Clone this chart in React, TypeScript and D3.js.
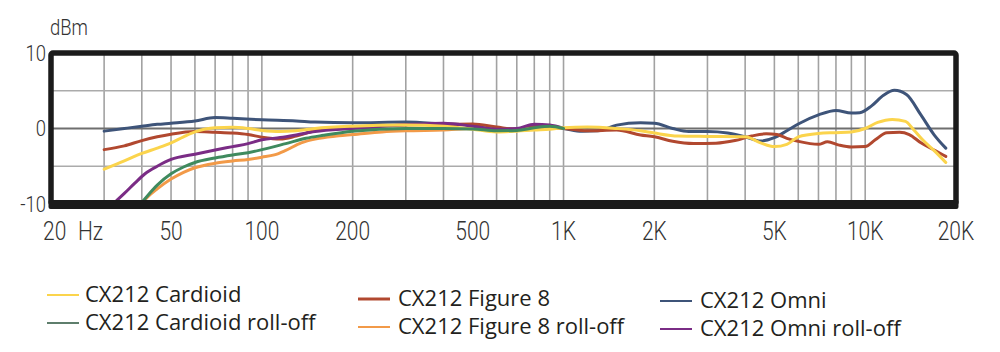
import React from "react";
import * as d3 from "d3";

type Pt = [number, number];

const cardioid: Pt[] = [
  [30, -5.4], [35, -4.3], [40, -3.3], [45, -2.6], [50, -1.9], [55, -1.1], [60, -0.45], [70, 0.1], [80, 0.15], [90, 0.0],
  [100, -0.25], [115, -0.4], [130, -0.3], [150, 0.0], [200, 0.3], [300, 0.45], [400, 0.3], [500, -0.1], [600, -0.45],
  [700, -0.35], [800, -0.2], [900, -0.1], [1000, 0.1], [1200, 0.2], [1500, 0.0], [1800, -0.3], [2000, -0.6], [2400, -1.0],
  [3000, -1.05], [4000, -1.1], [4500, -1.9], [5000, -2.4], [5500, -2.1], [6000, -1.1], [7000, -0.65], [8000, -0.55],
  [9000, -0.45], [10000, 0.0], [11000, 0.8], [12300, 1.2], [13600, 0.95], [14500, -0.2], [15500, -1.5], [17000, -3.0], [18500, -4.5],
];

const cardioidRollOff: Pt[] = [
  [40, -9.8], [42, -8.8], [45, -7.5], [50, -6.0], [55, -5.1], [60, -4.5], [70, -3.9], [80, -3.5], [90, -3.2], [100, -2.8],
  [120, -2.0], [140, -1.3], [160, -0.9], [200, -0.35], [300, 0.0], [400, 0.0], [500, -0.05], [600, -0.3], [700, -0.25],
  [800, 0.1], [900, 0.3], [1000, 0.0],
];

const figure8: Pt[] = [
  [30, -2.8], [35, -2.3], [40, -1.6], [45, -1.1], [50, -0.75], [60, -0.4], [70, -0.5], [80, -0.6], [90, -0.8], [100, -1.15],
  [115, -1.4], [130, -1.0], [150, -0.3], [200, 0.2], [300, 0.45], [400, 0.55], [500, 0.6], [600, 0.2], [700, -0.1],
  [800, 0.3], [900, 0.1], [1000, 0.0], [1200, -0.3], [1500, -0.2], [1800, -0.85], [2000, -1.1], [2300, -1.7], [2700, -2.0],
  [3200, -1.95], [3700, -1.6], [4200, -1.0], [4700, -0.7], [5100, -0.8], [5500, -1.3], [6000, -1.7], [7000, -2.1],
  [7500, -1.75], [8200, -2.2], [9000, -2.45], [10000, -2.4], [10800, -1.5], [11800, -0.55], [13000, -0.5], [14000, -0.8],
  [15300, -1.9], [17000, -2.9], [18500, -3.7],
];

const figure8RollOff: Pt[] = [
  [40, -9.9], [42, -9.0], [45, -8.0], [50, -6.7], [55, -5.8], [60, -5.2], [70, -4.6], [80, -4.3], [90, -4.1], [100, -3.8],
  [110, -3.5], [120, -2.9], [135, -1.9], [155, -1.3], [180, -0.95], [200, -0.8], [250, -0.45], [300, -0.3], [400, -0.2],
  [500, 0.0], [600, -0.2], [700, -0.1], [800, 0.0], [900, 0.1], [1000, 0.0],
];

const omni: Pt[] = [
  [30, -0.35], [35, 0.0], [40, 0.3], [45, 0.55], [50, 0.7], [60, 1.0], [70, 1.45], [80, 1.35], [100, 1.15], [130, 1.0],
  [150, 0.85], [200, 0.75], [300, 0.85], [400, 0.6], [500, 0.4], [600, -0.2], [700, -0.1], [800, 0.2], [900, 0.2],
  [1000, 0.0], [1150, -0.35], [1300, -0.3], [1500, 0.45], [1800, 0.75], [2000, 0.7], [2300, 0.0], [2600, -0.4],
  [3000, -0.4], [3500, -0.6], [4000, -1.1], [4500, -1.65], [5000, -1.2], [5500, -0.3], [6000, 0.6], [7000, 1.8],
  [8000, 2.4], [9000, 2.05], [9600, 2.1], [10500, 3.0], [11500, 4.4], [12500, 5.05], [13700, 4.5], [15300, 1.8],
  [16900, -0.8], [18500, -2.6],
];

const omniRollOff: Pt[] = [
  [32.5, -9.8], [35, -8.6], [38, -7.2], [41, -6.0], [45, -5.0], [50, -4.1], [60, -3.4], [70, -2.85], [80, -2.4], [90, -2.0],
  [100, -1.5], [115, -1.2], [130, -0.85], [150, -0.4], [200, 0.0], [300, 0.5], [400, 0.7], [500, 0.3], [600, -0.1],
  [700, 0.0], [800, 0.55], [900, 0.45], [1000, 0.0],
];

const seriesNames = [
  "CX212 Cardioid", "CX212 Cardioid roll-off", "CX212 Figure 8",
  "CX212 Figure 8 roll-off", "CX212 Omni", "CX212 Omni roll-off",
];
const seriesData: Pt[][] = [cardioid, cardioidRollOff, figure8, figure8RollOff, omni, omniRollOff];
const seriesColors = ["#FBD44C", "#3F8A5E", "#B1482F", "#F29A48", "#3E5479", "#7A2C85"];
const legendColors = ["#FBD44C", "#5E7E6C", "#B1482F", "#F29A48", "#3E5479", "#7A2C85"];
// drawing order (index into series)
const drawOrder = [4, 2, 3, 5, 0, 1];

const gridFreqs = [30, 40, 50, 60, 70, 80, 90, 100, 200, 300, 400, 500, 600, 700, 800, 900, 1000,
  2000, 3000, 4000, 5000, 6000, 7000, 8000, 9000, 10000];
const xTickValues = [50, 100, 200, 500, 1000, 2000, 5000, 10000, 20000];
const xTickLabels = ["50", "100", "200", "500", "1K", "2K", "5K", "10K", "20K"];
const yTickValues = [10, 0, -10];
const yGridValues = [5, 0, -5];

export default function App() {
  const W = 1000, H = 352;
  const x = d3.scaleLog().domain([20, 20000]).range([51, 956]);
  const y = d3.scaleLinear().domain([-10, 10]).range([204, 53]);
  const line = d3.line<Pt>().x(d => x(d[0])).y(d => y(d[1])).curve(d3.curveMonotoneX);
  const axisFont = "Roboto, 'Noto Sans', sans-serif";
  const legendFont = "'Open Sans', 'Noto Sans', sans-serif";
  const sx = 0.84;
  const axisColor = "#333";

  const legendCols = [
    { lx: 47, tx: 85, y0: 302 },
    { lx: 358, tx: 398, y0: 306 },
    { lx: 660, tx: 700, y0: 308 },
  ];

  return (
    <svg width={W} height={H} style={{ position: "absolute", left: 0, top: 0, background: "#fff" }}>
      <rect x={0} y={0} width={W} height={H} fill="#fff" />
      {/* vertical grid */}
      {gridFreqs.map(f => (
        <line key={"v" + f} x1={x(f)} x2={x(f)} y1={y(10)} y2={y(-10)} stroke="#a2a2a2" strokeWidth={1.6} />
      ))}
      {/* horizontal grid */}
      {yGridValues.map(v => (
        <line key={"h" + v} x1={x(20)} x2={x(20000)} y1={y(v)} y2={y(v)}
          stroke={v === 0 ? "#6f6f6f" : "#ababab"} strokeWidth={v === 0 ? 1.8 : 1.5} />
      ))}
      {/* curves */}
      <g fill="none" strokeLinecap="round" strokeLinejoin="round">
        {drawOrder.map(i => (
          <path key={"s" + i} d={line(seriesData[i]) || ""} stroke={seriesColors[i]} strokeWidth={3} />
        ))}
      </g>
      {/* frame */}
      <rect x={x(20)} y={y(10)} width={x(20000) - x(20)} height={y(-10) - y(10)}
        fill="none" stroke="#1b1b1b" strokeWidth={5.5} rx={2} />
      <rect x={x(20) - 2.5} y={y(-10) - 4} width={x(20000) - x(20) + 5} height={9} fill="#1b1b1b" rx={2} />
      {/* y labels */}
      <text transform={`translate(50,35) scale(${sx},1)`} fontFamily={axisFont} fontWeight={300} fontSize={22} fill={axisColor}>dBm</text>
      {yTickValues.map(v => (
        <text key={"y" + v} transform={`translate(46,${y(v) + 7.5}) scale(${sx},1)`} textAnchor="end"
          fontFamily={axisFont} fontWeight={300} fontSize={22} fill={axisColor}>{v}</text>
      ))}
      {/* x labels */}
      <text transform={`translate(43,240) scale(${sx},1)`} fontFamily={axisFont} fontWeight={300} fontSize={25} fill={axisColor}>20</text>
      <text transform={`translate(78,240) scale(${sx},1)`} fontFamily={axisFont} fontWeight={300} fontSize={25} fill={axisColor}>Hz</text>
      {xTickValues.map((f, i) => (
        <text key={"x" + f} transform={`translate(${x(f)},240) scale(${sx},1)`} textAnchor="middle"
          fontFamily={axisFont} fontWeight={300} fontSize={25} fill={axisColor}>{xTickLabels[i]}</text>
      ))}
      {/* legend */}
      {seriesNames.map((name, i) => {
        const col = legendCols[Math.floor(i / 2)];
        const row = i % 2;
        const yy = col.y0 + row * 28;
        return (
          <g key={"l" + i}>
            <line x1={col.lx} x2={col.lx + 32} y1={yy - 7} y2={yy - 7} stroke={legendColors[i]} strokeWidth={i === 2 ? 3 : 2} />
            <text x={col.tx} y={yy} fontFamily={legendFont} fontSize={22} fill="#231f20">{name}</text>
          </g>
        );
      })}
    </svg>
  );
}
